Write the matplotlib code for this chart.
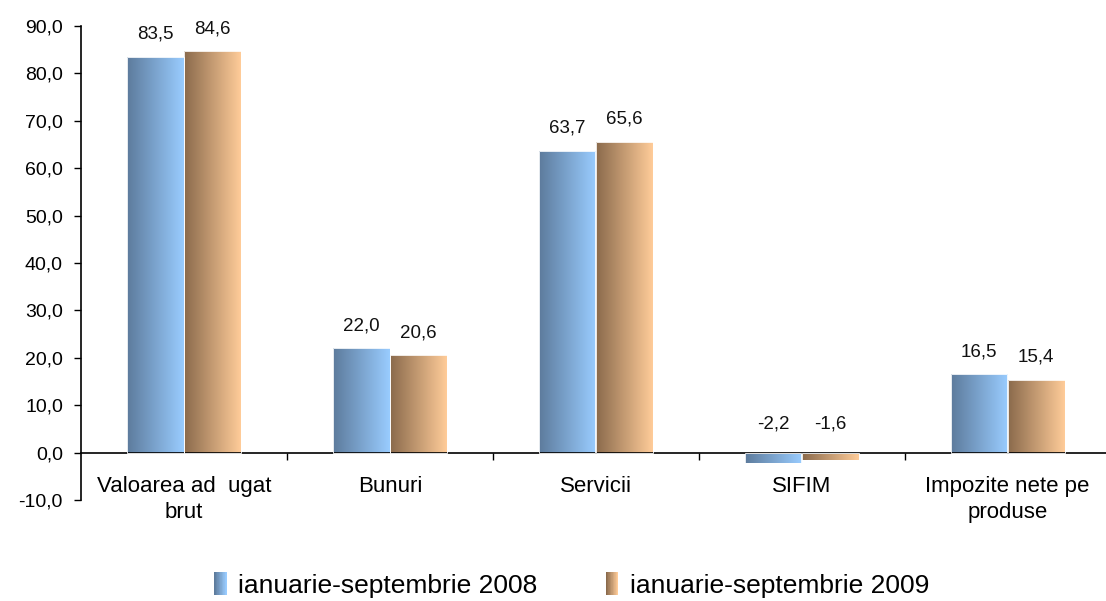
import numpy as np
import matplotlib
matplotlib.use("Agg")
import matplotlib.pyplot as plt
from matplotlib.colors import LinearSegmentedColormap
from matplotlib.patches import Rectangle
from matplotlib.legend_handler import HandlerBase

plt.rcParams['font.family'] = ['Liberation Sans', 'DejaVu Sans']

categories = ["Valoarea ad  ugat\nbrut", "Bunuri", "Servicii", "SIFIM", "Impozite nete pe\nproduse"]
series_names = ["ianuarie-septembrie 2008", "ianuarie-septembrie 2009"]
values_2008 = [83.5, 22.0, 63.7, -2.2, 16.5]
values_2009 = [84.6, 20.6, 65.6, -1.6, 15.4]
yticks = [-10, 0, 10, 20, 30, 40, 50, 60, 70, 80, 90]

blue_grad = ["#5d7b9c", "#99ccff"]
orange_grad = ["#8a6a4c", "#ffcc99"]


def fmt(v):
    return f"{v:.1f}".replace(".", ",")


class GradientHandler(HandlerBase):
    def __init__(self, cols):
        super().__init__()
        self.cmap = LinearSegmentedColormap.from_list("g", cols)

    def create_artists(self, legend, orig_handle, xdescent, ydescent, width, height, fontsize, trans):
        n = 20
        arts = []
        h = height * 1.25
        y0 = -ydescent - (h - height) / 2
        for i in range(n):
            r = Rectangle((-xdescent + width * i / n, y0), width / n + 0.3, h,
                          facecolor=self.cmap(i / (n - 1)), edgecolor="none", transform=trans)
            arts.append(r)
        return arts


fig = plt.figure(figsize=(11.06, 6.01), dpi=100)
ax = fig.add_axes([0.0732, 0.168, 0.931, 0.789])

x = np.arange(len(categories))
w = 0.275
off = 0.139

handles = []
for vals, cols, sgn, name in [(values_2008, blue_grad, -1, series_names[0]),
                              (values_2009, orange_grad, 1, series_names[1])]:
    bars = ax.bar(x + sgn * off, vals, w, facecolor="none", edgecolor="white", linewidth=0.6, zorder=3, label=name)
    handles.append(bars)
    cmap = LinearSegmentedColormap.from_list("g", cols)
    grad = np.linspace(0, 1, 256).reshape(1, -1)
    for b in bars:
        bx, by, bw, bh = b.get_x(), b.get_y(), b.get_width(), b.get_height()
        y1, y2 = min(by, by + bh), max(by, by + bh)
        im = ax.imshow(grad, extent=[bx, bx + bw, y1, y2], aspect="auto", cmap=cmap,
                       zorder=2, origin="lower", interpolation="bilinear")
        im.set_clip_path(b)
    for xi, v in zip(x + sgn * off, vals):
        ly = v + 4.7 if v >= 0 else 6.1
        ax.text(xi, ly, fmt(v), ha="center", va="center", fontsize=13.5, color="#111111")

ax.set_xlim(-0.5, 4.5)
ax.set_ylim(-10, 90)
ax.set_yticks(yticks)
ax.set_yticklabels([fmt(t) for t in yticks], fontsize=14)
ax.tick_params(axis="y", direction="out", length=5, width=1, pad=8)

ax.spines["top"].set_visible(False)
ax.spines["right"].set_visible(False)
ax.spines["bottom"].set_position(("data", 0))
ax.spines["left"].set_linewidth(1.2)
ax.spines["bottom"].set_linewidth(1.2)

ax.set_xticks(x)
ax.set_xticklabels(categories, fontsize=16, linespacing=1.3)
ax.set_xticks(x[:-1] + 0.5, minor=True)
ax.tick_params(axis="x", which="major", length=0, pad=17)
ax.tick_params(axis="x", which="minor", direction="out", length=5, width=1)

fig.legend(handles, series_names, loc="center", bbox_to_anchor=(0.517, 0.025), ncol=2,
           frameon=False, fontsize=19, columnspacing=2.6, handlelength=0.45, handletextpad=0.45,
           handler_map={handles[0]: GradientHandler(blue_grad), handles[1]: GradientHandler(orange_grad)})

fig.savefig("out.png", dpi=100)
